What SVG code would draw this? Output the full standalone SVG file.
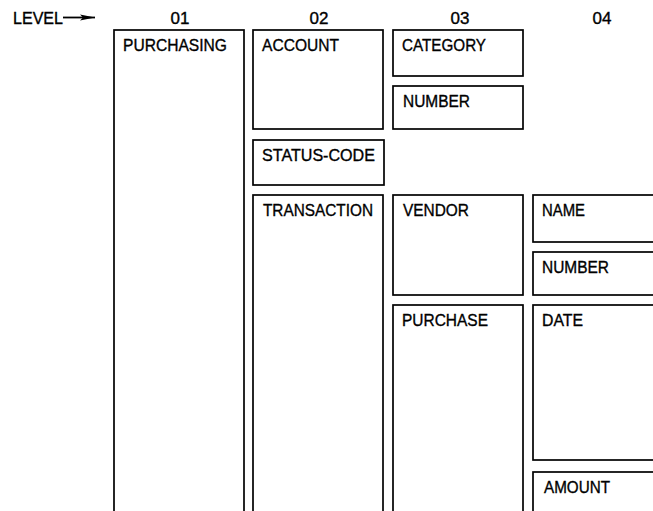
<svg xmlns="http://www.w3.org/2000/svg" width="653" height="511" viewBox="0 0 653 511">
  <style>
    .box { fill: #fff; stroke: #000; stroke-width: 1.7; }
    .lbl { font-family: "Liberation Sans", Arial, sans-serif; font-size: 17px; fill: #000; stroke: #000; stroke-width: 0.35; lengthAdjust: spacingAndGlyphs; }
    .hdr { font-family: "Liberation Sans", Arial, sans-serif; font-size: 17px; fill: #000; stroke: #000; stroke-width: 0.35; text-anchor: middle; }
  </style>
  <defs>
    <marker id="arrow" markerWidth="15" markerHeight="8" refX="15" refY="4" orient="auto" markerUnits="userSpaceOnUse">
      <path d="M0,1 L15,4 L0,7 L3,4 Z" fill="#000"/>
    </marker>
  </defs>
  <rect width="653" height="511" fill="#fff"/>

  <g id="level-header">
    <text class="lbl" x="13" y="23.5" textLength="50" lengthAdjust="spacingAndGlyphs">LEVEL</text>
    <text class="hdr" x="180" y="23.5">01</text>
    <text class="hdr" x="319" y="23.5">02</text>
    <text class="hdr" x="460" y="23.5">03</text>
    <text class="hdr" x="602" y="23.5">04</text>
  </g>

  <g id="connectors">
    <line x1="63" y1="17.5" x2="95" y2="17.5" stroke="#000" stroke-width="1.8" marker-end="url(#arrow)"/>
  </g>

  <g id="purchasing">
    <rect class="box" x="114" y="30" width="130" height="500"/>
    <text class="lbl" x="123" y="50.5" textLength="104" lengthAdjust="spacingAndGlyphs">PURCHASING</text>
  </g>

  <g id="account">
    <rect class="box" x="253" y="30" width="130" height="99"/>
    <text class="lbl" x="262" y="50.5" textLength="77" lengthAdjust="spacingAndGlyphs">ACCOUNT</text>
  </g>
  <g id="status-code">
    <rect class="box" x="253" y="140" width="131" height="45"/>
    <text class="lbl" x="262" y="160.5" textLength="113" lengthAdjust="spacingAndGlyphs">STATUS-CODE</text>
  </g>
  <g id="transaction">
    <rect class="box" x="253" y="195" width="130" height="335"/>
    <text class="lbl" x="263" y="215.5" textLength="110" lengthAdjust="spacingAndGlyphs">TRANSACTION</text>
  </g>

  <g id="category">
    <rect class="box" x="393" y="30" width="130" height="46"/>
    <text class="lbl" x="402" y="50.5" textLength="84" lengthAdjust="spacingAndGlyphs">CATEGORY</text>
  </g>
  <g id="account-number">
    <rect class="box" x="393" y="86" width="130" height="43"/>
    <text class="lbl" x="403" y="106.5" textLength="67" lengthAdjust="spacingAndGlyphs">NUMBER</text>
  </g>
  <g id="vendor">
    <rect class="box" x="393" y="195" width="130" height="100"/>
    <text class="lbl" x="403" y="215.5" textLength="66" lengthAdjust="spacingAndGlyphs">VENDOR</text>
  </g>
  <g id="purchase">
    <rect class="box" x="393" y="305" width="130" height="225"/>
    <text class="lbl" x="402" y="325.5" textLength="86" lengthAdjust="spacingAndGlyphs">PURCHASE</text>
  </g>

  <g id="name">
    <rect class="box" x="533" y="195" width="140" height="47"/>
    <text class="lbl" x="542" y="215.5" textLength="43" lengthAdjust="spacingAndGlyphs">NAME</text>
  </g>
  <g id="vendor-number">
    <rect class="box" x="533" y="252" width="140" height="43"/>
    <text class="lbl" x="542" y="272.5" textLength="67" lengthAdjust="spacingAndGlyphs">NUMBER</text>
  </g>
  <g id="date">
    <rect class="box" x="533" y="305" width="140" height="155"/>
    <text class="lbl" x="542" y="325.5" textLength="41" lengthAdjust="spacingAndGlyphs">DATE</text>
  </g>
  <g id="amount">
    <rect class="box" x="533" y="472" width="140" height="60"/>
    <text class="lbl" x="544" y="492.5" textLength="66" lengthAdjust="spacingAndGlyphs">AMOUNT</text>
  </g>
</svg>
